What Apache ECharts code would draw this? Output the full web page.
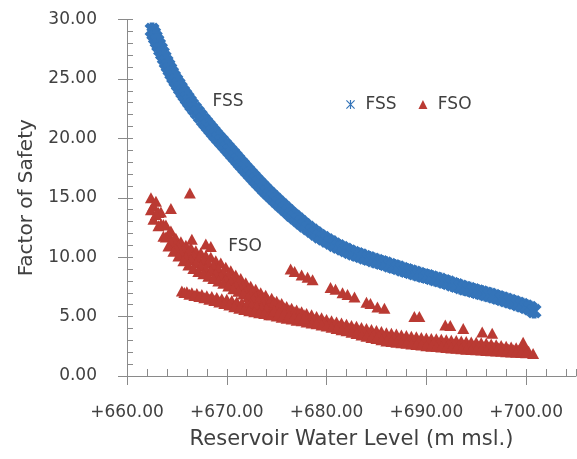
<!DOCTYPE html>
<html>
<head>
<meta charset="utf-8">
<script src="https://cdn.jsdelivr.net/npm/echarts@6/dist/echarts.min.js"></script>
<style>
html,body{margin:0;padding:0;background:#fff;}
#chart{width:577px;height:459px;}
</style>
</head>
<body>
<div id="chart"></div>
<script>
// ---- data ----
const xTicks = [660, 670, 680, 690, 700];
const yTicks = [0, 5, 10, 15, 20, 25, 30];
const seriesNames = ['FSS', 'FSO'];

const fssX = [662.51, 662.68, 662.84, 663.01, 663.17, 663.36, 663.55, 663.73, 663.92, 664.11, 664.30, 664.48, 664.67, 664.90, 665.13, 665.35, 665.58, 665.81, 666.03, 666.26, 666.48, 666.77, 667.06, 667.35, 667.64, 667.89, 668.14, 668.39, 668.64, 668.89, 669.18, 669.47, 669.76, 670.05, 670.32, 670.58, 670.85, 671.11, 671.34, 671.58, 671.81, 672.09, 672.36, 672.64, 672.91, 673.20, 673.49, 673.78, 674.07, 674.36, 674.65, 674.94, 675.23, 675.54, 675.86, 676.17, 676.48, 676.81, 677.14, 677.46, 677.79, 678.17, 678.55, 678.92, 679.30, 679.68, 680.05, 680.43, 680.80, 681.18, 681.56, 681.93, 682.31, 682.69, 683.07, 683.44, 683.82, 684.24, 684.66, 685.07, 685.49, 685.91, 686.33, 686.75, 687.17, 687.58, 688.00, 688.42, 688.84, 689.26, 689.68, 690.10, 690.52, 690.94, 691.36, 691.78, 692.20, 692.61, 693.03, 693.45, 693.87, 694.29, 694.71, 695.12, 695.54, 695.96, 696.38, 696.78, 697.18, 697.59, 697.99, 698.39, 698.79, 699.19, 699.60, 700.00, 700.40, 700.80];
const fssY = [29.12, 28.80, 28.48, 28.17, 27.85, 27.49, 27.14, 26.78, 26.42, 26.11, 25.79, 25.48, 25.16, 24.85, 24.53, 24.22, 23.90, 23.63, 23.36, 23.08, 22.81, 22.49, 22.18, 21.86, 21.54, 21.29, 21.04, 20.78, 20.53, 20.28, 20.01, 19.74, 19.46, 19.19, 18.94, 18.69, 18.43, 18.18, 17.95, 17.73, 17.50, 17.25, 17.00, 16.74, 16.49, 16.24, 15.99, 15.73, 15.48, 15.25, 15.02, 14.79, 14.56, 14.32, 14.08, 13.84, 13.60, 13.37, 13.14, 12.91, 12.68, 12.45, 12.22, 12.00, 11.77, 11.59, 11.41, 11.23, 11.05, 10.90, 10.75, 10.61, 10.46, 10.34, 10.22, 10.11, 9.99, 9.88, 9.77, 9.66, 9.55, 9.44, 9.33, 9.22, 9.11, 8.99, 8.88, 8.77, 8.66, 8.56, 8.46, 8.37, 8.27, 8.17, 8.07, 7.96, 7.84, 7.73, 7.62, 7.50, 7.39, 7.29, 7.20, 7.10, 7.00, 6.91, 6.81, 6.71, 6.61, 6.50, 6.40, 6.30, 6.18, 6.06, 5.95, 5.83, 5.71, 5.46];

// FSO upper (steep) branch: rows 1 and 3 on fsoUpX, rows 2 and 4 on fsoUpX2
const fsoUpX = [662.4, 662.9, 663.4, 663.9, 664.4, 664.9, 665.4, 665.9, 666.4, 666.9, 667.4, 667.9, 668.4, 668.9, 669.4, 669.9, 670.4, 670.9, 671.4, 671.9, 672.4, 672.9, 673.4, 673.9];
const fsoUpX2 = [662.65, 663.15, 663.65, 664.15, 664.65, 665.15, 665.65, 666.15, 666.65, 667.15, 667.65, 668.15, 668.65, 669.15, 669.65, 670.15, 670.65, 671.15, 671.65, 672.15, 672.65, 673.15, 673.65, 674.15];
const fsoUpRow1 = [15.0, 14.7, 13.8, 12.7, 12.2, 11.6, 11.3, 11.0, 10.8, 10.55, 10.35, 10.15, 10.0, 9.7, 9.5, 9.15, 8.85, 8.5, 8.2, 7.85, 7.55, 7.3, 7.0, 6.8];
const fsoUpRow2 = [14.35, 13.75, 12.75, 11.95, 11.4, 10.95, 10.65, 10.4, 10.15, 9.9, 9.7, 9.5, 9.28, 9.05, 8.78, 8.48, 8.2, 7.9, 7.6, 7.33, 7.08, 6.83, 6.6, 6.4];
const fsoUpRow3 = [14.0, 13.6, 12.8, 11.7, 11.2, 10.7, 10.4, 10.0, 9.8, 9.5, 9.25, 9.05, 8.85, 8.6, 8.4, 8.1, 7.9, 7.6, 7.35, 7.1, 6.9, 6.7, 6.5, 6.3];
const fsoUpRow4 = [13.2, 12.65, 11.75, 10.95, 10.5, 10.1, 9.7, 9.35, 9.05, 8.8, 8.6, 8.4, 8.2, 8.0, 7.8, 7.58, 7.35, 7.13, 6.9, 6.7, 6.53, 6.35, 6.15, 5.95];

// FSO lower branch, two staggered rows
const fsoLoX = [665.5, 666.0, 666.5, 667.0, 667.5, 668.0, 668.5, 669.0, 669.5, 670.0, 670.5, 671.0, 671.5, 672.0, 672.5, 673.0, 673.5, 674.0];
const fsoLoX2 = [665.75, 666.25, 666.75, 667.25, 667.75, 668.25, 668.75, 669.25, 669.75, 670.25, 670.75, 671.25, 671.75, 672.25, 672.75, 673.25, 673.75, 674.25];
const fsoLoRow1 = [7.15, 7.1, 7.0, 6.95, 6.85, 6.75, 6.7, 6.6, 6.5, 6.45, 6.35, 6.25, 6.15, 6.05, 5.95, 5.85, 5.75, 5.65];
const fsoLoRow2 = [7.03, 6.88, 6.78, 6.7, 6.58, 6.45, 6.35, 6.23, 6.1, 5.98, 5.83, 5.7, 5.6, 5.5, 5.4, 5.33, 5.25, 5.15];

// FSO main band: rows 1 and 3 on fsoMainX, row 2 on fsoMainX2
const fsoMainX = [674.5, 675.0, 675.5, 676.0, 676.5, 677.0, 677.5, 678.0, 678.5, 679.0, 679.5, 680.0, 680.5, 681.0, 681.5, 682.0, 682.5, 683.0, 683.5, 684.0, 684.5, 685.0, 685.5, 686.0, 686.5, 687.0, 687.5, 688.0, 688.5, 689.0, 689.5, 690.0, 690.5, 691.0, 691.5, 692.0, 692.5, 693.0, 693.5, 694.0, 694.5, 695.0, 695.5, 696.0, 696.5, 697.0, 697.5, 698.0, 698.5, 699.0, 699.5, 700.0];
const fsoMainX2 = [674.75, 675.25, 675.75, 676.25, 676.75, 677.25, 677.75, 678.25, 678.75, 679.25, 679.75, 680.25, 680.75, 681.25, 681.75, 682.25, 682.75, 683.25, 683.75, 684.25, 684.75, 685.25, 685.75, 686.25, 686.75, 687.25, 687.75, 688.25, 688.75, 689.25, 689.75, 690.25, 690.75, 691.25, 691.75, 692.25, 692.75, 693.25, 693.75, 694.25, 694.75, 695.25, 695.75, 696.25, 696.75, 697.25, 697.75, 698.25, 698.75, 699.25, 699.75, 700.25];
const fsoMainRow1 = [6.55, 6.3, 6.1, 5.85, 5.7, 5.55, 5.4, 5.25, 5.15, 5.0, 4.9, 4.75, 4.65, 4.55, 4.45, 4.35, 4.26, 4.18, 4.09, 4.0, 3.91, 3.83, 3.74, 3.65, 3.59, 3.53, 3.46, 3.4, 3.35, 3.3, 3.25, 3.2, 3.16, 3.13, 3.09, 3.05, 3.01, 2.98, 2.94, 2.9, 2.86, 2.83, 2.79, 2.75, 2.69, 2.63, 2.56, 2.5, 2.44, 2.38, 2.31, 2.25];
const fsoMainRow2 = [5.78, 5.63, 5.45, 5.3, 5.18, 5.05, 4.95, 4.85, 4.75, 4.65, 4.55, 4.44, 4.33, 4.23, 4.13, 4.03, 3.93, 3.83, 3.73, 3.63, 3.54, 3.45, 3.35, 3.28, 3.22, 3.16, 3.11, 3.06, 3.01, 2.96, 2.91, 2.86, 2.82, 2.79, 2.75, 2.71, 2.67, 2.64, 2.6, 2.57, 2.53, 2.5, 2.47, 2.43, 2.39, 2.35, 2.3, 2.26, 2.21, 2.17, 2.12, 2.08];
const fsoMainRow3 = [5.15, 5.05, 4.95, 4.85, 4.8, 4.7, 4.65, 4.55, 4.45, 4.4, 4.3, 4.2, 4.1, 4.0, 3.9, 3.8, 3.69, 3.58, 3.46, 3.35, 3.25, 3.15, 3.05, 2.95, 2.9, 2.85, 2.8, 2.75, 2.7, 2.65, 2.6, 2.55, 2.51, 2.48, 2.44, 2.4, 2.36, 2.33, 2.29, 2.25, 2.23, 2.2, 2.18, 2.15, 2.13, 2.1, 2.08, 2.05, 2.03, 2.0, 1.98, 1.95];

// FSO points at the junction of the branches
const fsoFillX = [674.75, 675.25, 675.75, 676.25, 676.75, 677.25, 677.75, 674.75, 675.25, 675.75, 676.25, 676.75, 677.25, 677.75];
const fsoFillY = [6.2, 6.0, 5.75, 5.55, 5.4, 5.3, 5.15, 5.5, 5.35, 5.25, 5.1, 5.0, 4.9, 4.85];

// FSO isolated points
const fsoOutX = [664.4, 666.3, 666.5, 667.9, 668.4, 676.4, 676.8, 677.5, 678.1, 678.6, 680.4, 680.9, 681.6, 682.1, 682.8, 684.0, 684.4, 685.1, 685.8, 688.8, 689.3, 691.9, 692.4, 693.7, 695.6, 696.6, 699.7, 700.7];
const fsoOutY = [14.1, 15.4, 11.5, 11.1, 10.9, 9.0, 8.8, 8.5, 8.3, 8.1, 7.45, 7.3, 7.0, 6.85, 6.65, 6.2, 6.1, 5.8, 5.7, 5.0, 5.0, 4.3, 4.25, 4.0, 3.7, 3.6, 2.85, 1.9];

// ---- build ----
const zip = (xs, ys) => xs.map((x, i) => [x, ys[i]]);
const fssData = zip(fssX, fssY);
const fsoData = [].concat(
  zip(fsoUpX, fsoUpRow1), zip(fsoUpX2, fsoUpRow2), zip(fsoUpX, fsoUpRow3), zip(fsoUpX2, fsoUpRow4),
  zip(fsoLoX, fsoLoRow1), zip(fsoLoX2, fsoLoRow2),
  zip(fsoMainX, fsoMainRow1), zip(fsoMainX2, fsoMainRow2), zip(fsoMainX, fsoMainRow3),
  zip(fsoFillX, fsoFillY),
  zip(fsoOutX, fsoOutY)
);

const FONT = '"DejaVu Sans", sans-serif';
const AXIS_C = '#8a8a8a';
const TEXT_C = '#404040';
const BLUE = '#3474b9';
const RED = '#ba3a33';
const STAR = 'path://M-3.2,-10L3.2,-10L3.2,10L-3.2,10Z M-10,-5.4L-5.4,-10L10,5.4L5.4,10Z M5.4,-10L10,-5.4L-5.4,10L-10,5.4Z';
const STAR_THIN = 'path://M-1.3,-10L1.3,-10L1.3,10L-1.3,10Z M-10,-8.2L-8.2,-10L10,8.2L8.2,10Z M8.2,-10L10,-8.2L-8.2,10L-10,8.2Z';

const chart = echarts.init(document.getElementById('chart'), null, {renderer: 'canvas'});
const xMin = xTicks[0], xMax = 705, yMin = yTicks[0], yMax = yTicks[yTicks.length - 1];

chart.setOption({
  animation: false,
  backgroundColor: '#fff',
  grid: {left: 127, right: 1, top: 19.5, bottom: 83, containLabel: false},
  legend: {
    left: 341, top: 91,
    itemWidth: 9, itemHeight: 9, itemGap: 22,
    formatter: n => ' ' + n,
    textStyle: {fontSize: 17, color: TEXT_C, fontFamily: FONT},
    data: [{name: seriesNames[0], icon: STAR_THIN}, {name: seriesNames[1], icon: 'triangle'}]
  },
  xAxis: [{
    type: 'value', min: xMin, max: xMax, interval: 10,
    name: 'Reservoir Water Level (m msl.)', nameLocation: 'middle', nameGap: 53,
    nameTextStyle: {fontSize: 21, color: TEXT_C, fontFamily: FONT},
    axisLine: {show: true, lineStyle: {color: AXIS_C, width: 1}},
    axisTick: {show: true, inside: false, length: 9, lineStyle: {color: AXIS_C}},
    axisLabel: {margin: 28, fontSize: 17, color: TEXT_C, fontFamily: FONT, showMaxLabel: false,
      formatter: v => (xTicks.indexOf(v) >= 0 ? '+' + v.toFixed(2) : '')},
    splitLine: {show: false}
  }, {
    type: 'value', min: xMin, max: xMax, interval: 10, position: 'bottom',
    axisLine: {show: false},
    axisTick: {show: true, inside: true, length: 7, lineStyle: {color: AXIS_C}},
    minorTick: {show: true, splitNumber: 5, length: 7, lineStyle: {color: AXIS_C}},
    axisLabel: {show: false}, splitLine: {show: false}
  }],
  yAxis: [{
    type: 'value', min: yMin, max: yMax, interval: 5,
    name: 'Factor of Safety', nameLocation: 'middle', nameGap: 90,
    nameTextStyle: {fontSize: 20, color: TEXT_C, fontFamily: FONT},
    axisLine: {show: true, lineStyle: {color: AXIS_C, width: 1}},
    axisTick: {show: true, inside: false, length: 9, lineStyle: {color: AXIS_C}},
    axisLabel: {margin: 30, fontSize: 17, color: TEXT_C, fontFamily: FONT,
      formatter: v => v.toFixed(2)},
    splitLine: {show: false}
  }, {
    type: 'value', min: yMin, max: yMax, interval: 5, position: 'left',
    axisLine: {show: false},
    axisTick: {show: true, inside: true, length: 6, lineStyle: {color: AXIS_C}},
    minorTick: {show: true, splitNumber: 5, length: 6, lineStyle: {color: AXIS_C}},
    axisLabel: {show: false}, splitLine: {show: false}
  }],
  graphic: [
    {type: 'text', x: 228, y: 102, style: {text: 'FSS', font: '17px ' + FONT, fill: TEXT_C, textAlign: 'center', textVerticalAlign: 'middle', align: 'center', verticalAlign: 'middle'}},
    {type: 'text', x: 245, y: 247, style: {text: 'FSO', font: '17px ' + FONT, fill: TEXT_C, textAlign: 'center', textVerticalAlign: 'middle', align: 'center', verticalAlign: 'middle'}}
  ],
  series: [{
    name: seriesNames[0], type: 'scatter', xAxisIndex: 0, yAxisIndex: 0,
    symbol: STAR, symbolSize: 15,
    itemStyle: {color: BLUE, opacity: 1},
    data: fssData
  }, {
    name: seriesNames[1], type: 'scatter', xAxisIndex: 0, yAxisIndex: 0,
    symbol: 'triangle', symbolSize: [12, 11],
    itemStyle: {color: RED, opacity: 1},
    data: fsoData
  }]
});
</script>
</body>
</html>
